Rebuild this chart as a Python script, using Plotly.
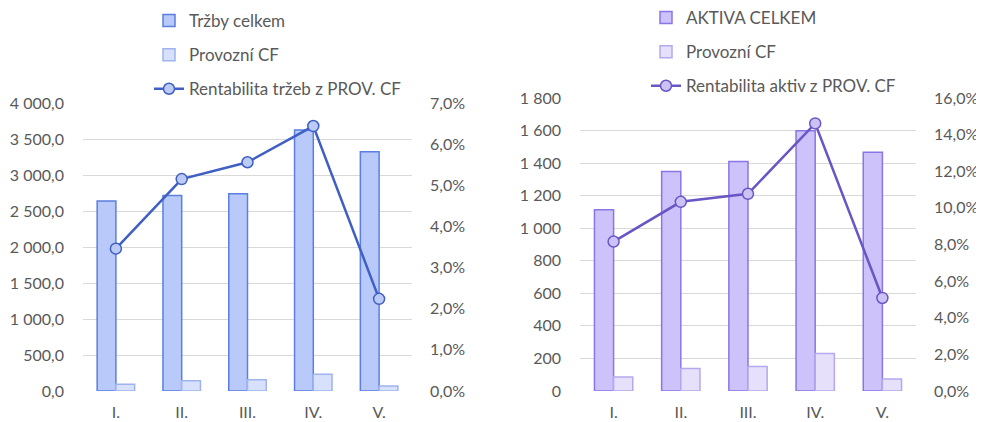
import plotly.graph_objects as go

categories = ["I.", "II.", "III.", "IV.", "V."]

trzby_celkem = [2639, 2716, 2740, 3625, 3324]
provozni_cf_1 = [93, 143, 157, 232, 69]
rentabilita_trzeb = [0.0346, 0.0515, 0.0556, 0.0644, 0.0224]

aktiva_celkem = [1113, 1349, 1410, 1599, 1466]
provozni_cf_2 = [86, 138, 150, 230, 74]
rentabilita_aktiv = [0.0816, 0.1033, 0.1077, 0.1461, 0.0508]

FONT = "Lato"
GRAY = "#595959"
GRID = "#d9d9d9"

fig = go.Figure()

# Left chart
fig.add_trace(go.Bar(x=categories, y=trzby_celkem, name="Tržby celkem",
                     marker=dict(color="#b9cafa", line=dict(color="#5a7fe0", width=1.5)),
                     xaxis="x", yaxis="y", legend="legend", legendgroup="a1", offsetgroup="a"))
fig.add_trace(go.Bar(x=categories, y=provozni_cf_1, name="Provozní CF",
                     marker=dict(color="#d8e1fb", line=dict(color="#9fb3ee", width=1.5)),
                     xaxis="x", yaxis="y", legend="legend", legendgroup="a2", offsetgroup="b"))
fig.add_trace(go.Scatter(x=categories, y=rentabilita_trzeb, name="Rentabilita tržeb z PROV. CF",
                         mode="lines+markers",
                         line=dict(color="#3f5fc4", width=2.5),
                         marker=dict(size=11, color="#bccbf6", line=dict(color="#3f5fc4", width=1.5)),
                         xaxis="x", yaxis="y2", legend="legend", legendgroup="a3"))

# Right chart
fig.add_trace(go.Bar(x=categories, y=aktiva_celkem, name="AKTIVA CELKEM",
                     marker=dict(color="#cdc2fa", line=dict(color="#8a76e6", width=1.5)),
                     xaxis="x2", yaxis="y3", legend="legend2", legendgroup="b1", offsetgroup="a"))
fig.add_trace(go.Bar(x=categories, y=provozni_cf_2, name="Provozní CF",
                     marker=dict(color="#e6e0fb", line=dict(color="#b6a8ec", width=1.5)),
                     xaxis="x2", yaxis="y3", legend="legend2", legendgroup="b2", offsetgroup="b"))
fig.add_trace(go.Scatter(x=categories, y=rentabilita_aktiv, name="Rentabilita aktiv z PROV. CF",
                         mode="lines+markers",
                         line=dict(color="#6a55c4", width=2.5),
                         marker=dict(size=11, color="#cdc2f6", line=dict(color="#6a55c4", width=1.5)),
                         xaxis="x2", yaxis="y4", legend="legend2", legendgroup="b3"))

# the page body has an 8px margin: the figure fills the rest of the window
OFF = 8
W, H = 984 - OFF, 422 - OFF
tickfont = dict(family=FONT, size=16, color=GRAY)

def xd(a, b):
    return [(a - OFF) / W, (b - OFF) / W]

def yd(top, bottom):
    return [(H - (bottom - OFF)) / H, (H - (top - OFF)) / H]

axis_common = dict(showline=False, zeroline=False, automargin=False, tickfont=tickfont)

fig.update_layout(
    width=W, height=H,
    margin=dict(l=0, r=0, t=0, b=0, autoexpand=False),
    paper_bgcolor="white", plot_bgcolor="white",
    separators=", ",
    barmode="group", bargap=0.43, bargroupgap=0,
    font=dict(family=FONT, size=16, color=GRAY),
    showlegend=True,
    xaxis=dict(domain=xd(83, 412), anchor="y", showgrid=False, ticks="",
               ticklabelstandoff=10, **axis_common),
    yaxis=dict(domain=yd(103, 391), anchor="x", range=[0, 4000], dtick=500,
               tickformat=",.1f", showgrid=True, gridcolor=GRID, gridwidth=1,
               ticklabelstandoff=18, **axis_common),
    yaxis2=dict(domain=yd(103, 391), anchor="x", overlaying="y", side="right",
                range=[0, 0.07], dtick=0.01, tickformat=".1%", showgrid=False,
                ticklabelstandoff=17, **axis_common),
    xaxis2=dict(domain=xd(580, 916), anchor="y3", showgrid=False, ticks="",
                ticklabelstandoff=10, **axis_common),
    yaxis3=dict(domain=yd(98, 391), anchor="x2", range=[0, 1800], dtick=200,
                tickformat=",d", showgrid=True, gridcolor=GRID, gridwidth=1,
                ticklabelstandoff=18, **axis_common),
    yaxis4=dict(domain=yd(98, 391), anchor="x2", overlaying="y3", side="right",
                range=[0, 0.16], dtick=0.02, tickformat=".1%", showgrid=False,
                ticklabelstandoff=17, **axis_common),
    legend=dict(x=(149 - OFF) / W, y=1.0 + 5 / H, xanchor="left", yanchor="top",
                orientation="v", traceorder="grouped", tracegroupgap=9,
                font=dict(family=FONT, size=17, color=GRAY), bgcolor="rgba(0,0,0,0)"),
    legend2=dict(x=(646 - OFF) / W, y=1.0 + 8 / H, xanchor="left", yanchor="top",
                 orientation="v", traceorder="grouped", tracegroupgap=9,
                 font=dict(family=FONT, size=17, color=GRAY), bgcolor="rgba(0,0,0,0)"),
)

fig.write_html("out.html")
